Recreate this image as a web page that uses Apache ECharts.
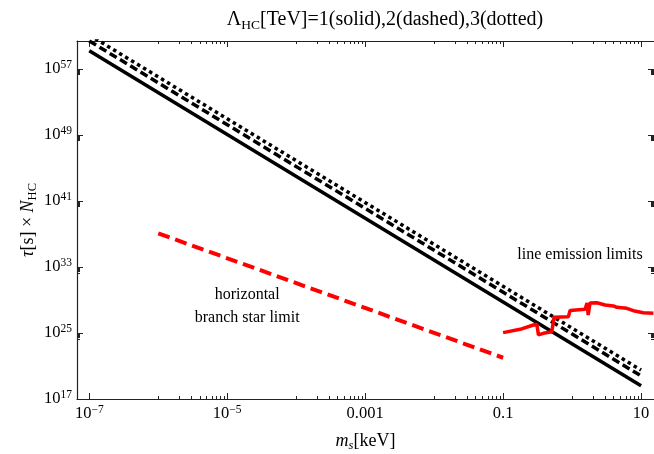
<!DOCTYPE html>
<html>
<head>
<meta charset="utf-8">
<script src="https://cdn.jsdelivr.net/npm/echarts@6/dist/echarts.min.js"></script>
<style>
  html, body { margin: 0; padding: 0; background: #fff; }
  #chart { width: 654px; height: 454px; }
</style>
</head>
<body>
<div id="chart"></div>
<script>
// m_s in keV, tau*N_HC in s

// straight lines (log-log), end points
const massEnds = [1e-7, 10]
const tauSolid = [1.6e59, 4.0e18]   // Lambda = 1 TeV
const tauDashed = [2.5e60, 6.3e19]  // Lambda = 2 TeV
const tauDotted = [1.3e61, 3.2e20]  // Lambda = 3 TeV

// horizontal branch star limit
const hbMass = [1e-6, 0.1]
const hbTau = [1.2e37, 1e22]

// line emission limits
const lineMass = [0.1, 0.176, 0.275, 0.308, 0.325, 0.384, 0.508, 0.548, 0.883, 0.935, 1.54, 1.65, 1.71, 1.82, 2.28, 3.01, 3.97, 4.45, 6.21, 7.73, 10.8, 15.1]
const lineTau = [1.1e25, 2.8e25, 9.3e25, 1.2e26, 5.8e24, 9.1e24, 1.4e25, 7.9e26, 9.5e26, 5.4e27, 7.4e27, 4.4e28, 1.5e27, 4.4e28, 4.7e28, 2.5e28, 1.9e28, 1.3e28, 9.8e27, 5.0e27, 2.9e27, 2.5e27]

// tick labels
const xLabels = [1e-7, 1e-5, 1e-3, 0.1, 10]
const yLabels = [1e17, 1e25, 1e33, 1e41, 1e49, 1e57]

// text notes
const noteText = ['line emission limits', 'horizontal\nbranch star limit']
const noteMass = [1.3, 1.95e-5]
const noteTau = [2.8e34, 1.6e28]

const serif = 'Liberation Serif'
const ink = '#000'

// minor ticks (Mathematica style)
const xMinor = []
;[-6, -4, -2, 0].forEach(e => {
  for (let k = 1; k <= 9; k++) xMinor.push(k * Math.pow(10, e))
})
const yMinor = []
yLabels.forEach(v => {
  for (let k = 2; k <= 9; k++) yMinor.push(k * v / 10)
})

const supRich = {
  n: { fontFamily: serif, fontSize: 16.5, color: ink, lineHeight: 20 },
  sup: { fontFamily: serif, fontSize: 11.5, color: ink, lineHeight: 12, verticalAlign: 'top' }
}

function xFmt(v) {
  const e = Math.round(Math.log10(v))
  if (e >= -3) return '{n|' + (e < 0 ? v.toFixed(-e) : String(Math.round(v))) + '}'
  return '{n|10}{sup|\u2212' + (-e) + '}'
}
function yFmt(v) {
  const e = Math.round(Math.log10(v))
  return '{n|10}{sup|' + e + '}'
}

const xMin = 6.64e-8
const xMax = 15.4
const yMin = 1e17
const yMax = 2.45e60

function xAxis(pos, ticks, len, showLine, labels) {
  return {
    type: 'log', logBase: 10, position: pos, min: xMin, max: xMax,
    axisLine: { show: showLine, onZero: false, lineStyle: { color: '#222', width: 1.2 } },
    axisTick: { show: true, inside: true, length: len, customValues: ticks, lineStyle: { color: '#222', width: 1 } },
    axisLabel: labels ? { show: true, customValues: labels, formatter: xFmt, rich: supRich, margin: 5 } : { show: false },
    splitLine: { show: false },
    minorTick: { show: false }
  }
}
function yAxis(pos, ticks, len, showLine, labels) {
  return {
    type: 'log', logBase: 10, position: pos, min: yMin, max: yMax,
    axisLine: { show: showLine, onZero: false, lineStyle: { color: '#222', width: 1.2 } },
    axisTick: { show: true, inside: true, length: len, customValues: ticks, lineStyle: { color: '#222', width: 1 } },
    axisLabel: labels ? { show: true, customValues: labels, formatter: yFmt, rich: supRich, margin: 5 } : { show: false },
    splitLine: { show: false },
    minorTick: { show: false }
  }
}

const nameRich = {
  i: { fontFamily: serif, fontStyle: 'italic', fontSize: 18, color: ink, lineHeight: 22 },
  si: { fontFamily: serif, fontStyle: 'italic', fontSize: 12.5, color: ink, lineHeight: 13, verticalAlign: 'bottom' },
  sub: { fontFamily: serif, fontSize: 12.5, color: ink, lineHeight: 13, verticalAlign: 'bottom' },
  n: { fontFamily: serif, fontSize: 18, color: ink, lineHeight: 22 }
}

const xAxes = [
  xAxis('bottom', xLabels, 6, true, xLabels),
  xAxis('bottom', xMinor, 3, false, null),
  xAxis('top', xLabels, 6, true, null),
  xAxis('top', xMinor, 3, false, null)
]
xAxes[0].name = '{i|m}{si|s}{n|[keV]}'
xAxes[0].nameLocation = 'middle'
xAxes[0].nameGap = 31
xAxes[0].nameTextStyle = { rich: nameRich }

const yAxes = [
  yAxis('left', yLabels, 6, true, yLabels),
  yAxis('left', yMinor, 3, false, null),
  yAxis('right', yLabels, 6, false, null),
  yAxis('right', yMinor, 3, false, null)
]
yAxes[0].name = '{i|\u03c4}{n|[s] \u00d7 }{i|N}{sub|HC}'
yAxes[0].nameLocation = 'middle'
yAxes[0].nameRotate = 90
yAxes[0].nameGap = 38
yAxes[0].nameMoveOverlap = false
yAxes[0].nameTextStyle = { rich: nameRich }

const zip = (xs, ys) => xs.map((x, i) => [x, ys[i]])

const myChart = echarts.init(document.getElementById('chart'))
myChart.setOption({
  animation: false,
  title: {
    text: '{n|\u039b}{sub|HC}{n|[TeV]=1(solid),2(dashed),3(dotted)}',
    left: 380,
    textAlign: 'center',
    top: 3,
    textStyle: {
      fontWeight: 'normal',
      rich: {
        n: { fontFamily: serif, fontSize: 20, fontWeight: 'normal', color: ink, lineHeight: 24 },
        sub: { fontFamily: serif, fontSize: 13.5, fontWeight: 'normal', color: ink, lineHeight: 14, verticalAlign: 'bottom' }
      }
    }
  },
  grid: { left: 77, right: 0, top: 41, bottom: 55, containLabel: false, outerBoundsMode: 'none' },
  xAxis: xAxes,
  yAxis: yAxes,
  series: [
    {
      name: 'solid', type: 'line', showSymbol: false, symbol: 'none',
      data: zip(massEnds, tauSolid),
      lineStyle: { color: '#000', width: 3.5, type: 'solid' }
    },
    {
      name: 'dashed', type: 'line', showSymbol: false, symbol: 'none',
      data: zip(massEnds, tauDashed),
      lineStyle: { color: '#000', width: 3.5, type: [8, 4] }
    },
    {
      name: 'dotted', type: 'line', showSymbol: false, symbol: 'none',
      data: zip(massEnds, tauDotted),
      lineStyle: { color: '#000', width: 3.5, type: [3.5, 3.5] }
    },
    {
      name: 'HB star', type: 'line', showSymbol: false, symbol: 'none',
      data: zip(hbMass, hbTau),
      lineStyle: { color: '#ff0000', width: 4, type: [12, 6] }
    },
    {
      name: 'line emission', type: 'line', showSymbol: false, symbol: 'none',
      data: zip(lineMass, lineTau),
      lineStyle: { color: '#ff0000', width: 3.5 }
    },
    {
      name: 'notes', type: 'scatter', symbolSize: 0,
      data: noteText.map((t, i) => ({ value: [noteMass[i], noteTau[i]], name: t })),
      itemStyle: { opacity: 1 },
      label: {
        show: true, position: 'inside', formatter: '{b}',
        fontFamily: serif, fontSize: 16, color: ink, opacity: 1, lineHeight: 23, align: 'center'
      },
      silent: true
    }
  ]
})
window.addEventListener('resize', () => myChart.resize())
</script>
</body>
</html>
